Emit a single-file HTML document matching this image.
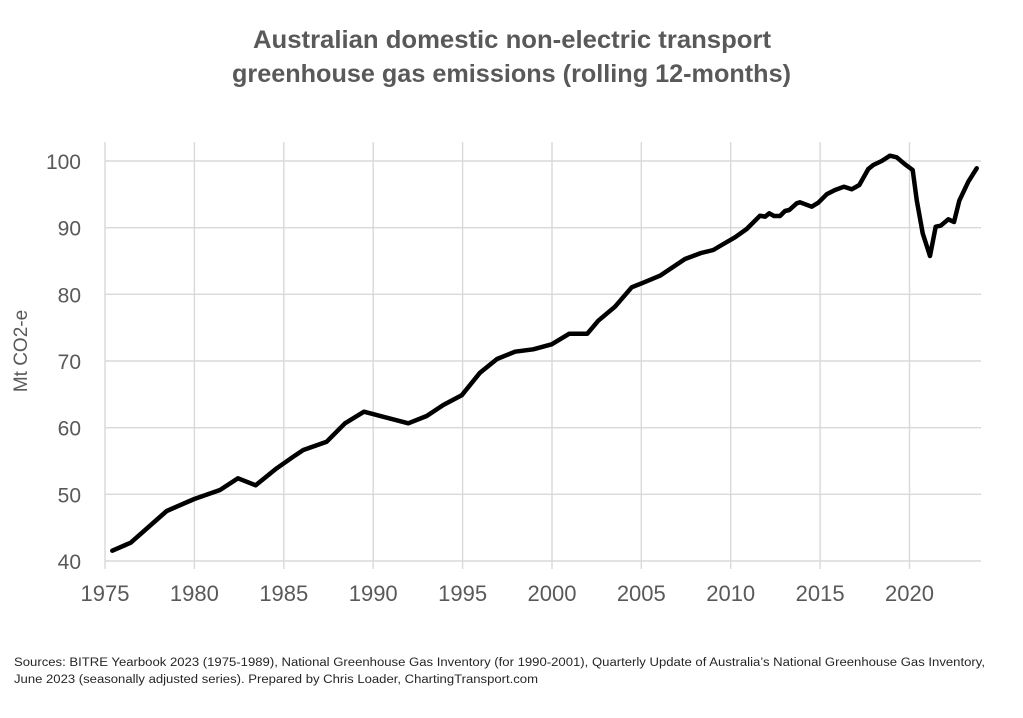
<!DOCTYPE html>
<html>
<head>
<meta charset="utf-8">
<style>
html,body{margin:0;padding:0;background:#fff;}
svg{display:block;}
text{font-family:"Liberation Sans",sans-serif;fill:#595959;}
</style>
</head>
<body>
<svg width="1023" height="718" viewBox="0 0 1023 718" xmlns="http://www.w3.org/2000/svg">
<rect width="1023" height="718" fill="#fff"/>
<text x="253" y="48" font-size="25" font-weight="bold" textLength="518" lengthAdjust="spacingAndGlyphs">Australian domestic non-electric transport</text>
<text x="232" y="82" font-size="25" font-weight="bold" textLength="559" lengthAdjust="spacingAndGlyphs">greenhouse gas emissions (rolling 12-months)</text>

<g stroke="#d9d9d9" stroke-width="1.4" fill="none">
<line x1="105" y1="161" x2="981" y2="161"/>
<line x1="105" y1="227.7" x2="981" y2="227.7"/>
<line x1="105" y1="294.3" x2="981" y2="294.3"/>
<line x1="105" y1="361" x2="981" y2="361"/>
<line x1="105" y1="427.7" x2="981" y2="427.7"/>
<line x1="105" y1="494.3" x2="981" y2="494.3"/>
<line x1="105" y1="561" x2="981" y2="561"/>
<line x1="105" y1="142" x2="105" y2="569"/>
<line x1="194.4" y1="142" x2="194.4" y2="569"/>
<line x1="283.8" y1="142" x2="283.8" y2="569"/>
<line x1="373.2" y1="142" x2="373.2" y2="569"/>
<line x1="462.6" y1="142" x2="462.6" y2="569"/>
<line x1="552" y1="142" x2="552" y2="569"/>
<line x1="641.3" y1="142" x2="641.3" y2="569"/>
<line x1="730.7" y1="142" x2="730.7" y2="569"/>
<line x1="820.1" y1="142" x2="820.1" y2="569"/>
<line x1="909.5" y1="142" x2="909.5" y2="569"/>
</g>

<g font-size="21" text-anchor="end">
<text x="81" y="169">100</text>
<text x="81" y="235.7">90</text>
<text x="81" y="302.3">80</text>
<text x="81" y="369">70</text>
<text x="81" y="435.7">60</text>
<text x="81" y="502.3">50</text>
<text x="81" y="569">40</text>
</g>
<g font-size="22" text-anchor="middle">
<text x="105" y="601">1975</text>
<text x="194.4" y="601">1980</text>
<text x="283.8" y="601">1985</text>
<text x="373.2" y="601">1990</text>
<text x="462.6" y="601">1995</text>
<text x="552" y="601">2000</text>
<text x="641.3" y="601">2005</text>
<text x="730.7" y="601">2010</text>
<text x="820.1" y="601">2015</text>
<text x="909.5" y="601">2020</text>
</g>
<text x="0" y="0" font-size="19" text-anchor="middle" transform="translate(27,351) rotate(-90)">Mt CO2-e</text>

<polyline fill="none" stroke="#000" stroke-width="4.5" stroke-linejoin="round" stroke-linecap="round" points="112.3,550.7 130.7,542.7 166.7,511 194.3,499 220,490 238,478.3 255.7,485.3 276.7,468.3 293.3,456.7 303.3,450 326.7,441.7 345,423.3 364,411.7 408.3,423.3 426.7,416 443.3,405 461.7,395.3 480,372.7 497,359 515,351.7 533.3,349.3 551.7,344.3 569.3,333.7 587.3,333.7 598.3,320.7 615,306.7 631.7,287.3 641.7,283.3 660,275.7 685,259 701,253 713.3,250 720,246 735,237.3 746.7,229 760,215.7 765,216.7 769.3,213.3 774,216 780,216 785,211 789.3,210 796.7,203.3 800,202.3 811.7,206.7 818.3,202.7 826.7,194.3 835,190 844,186.7 851.7,189.3 859.3,185 868.3,169 873.3,165 881.7,161 890,155.7 896.7,157.3 905,164.3 912.7,170 916.7,200 922.7,233.3 930,256 935.7,226.7 940.7,225.7 948.3,219.3 954,222 959.3,200.7 968.3,181.7 976.7,168.3"/>

<text x="14" y="666" font-size="11.5" style="fill:#262626" textLength="971" lengthAdjust="spacingAndGlyphs">Sources: BITRE Yearbook 2023 (1975-1989),  National Greenhouse Gas Inventory (for 1990-2001), Quarterly Update of Australia’s National Greenhouse Gas Inventory,</text>
<text x="14" y="683" font-size="11.5" style="fill:#262626" textLength="524" lengthAdjust="spacingAndGlyphs">June 2023  (seasonally adjusted series). Prepared by Chris Loader, ChartingTransport.com</text>
</svg>
</body>
</html>
